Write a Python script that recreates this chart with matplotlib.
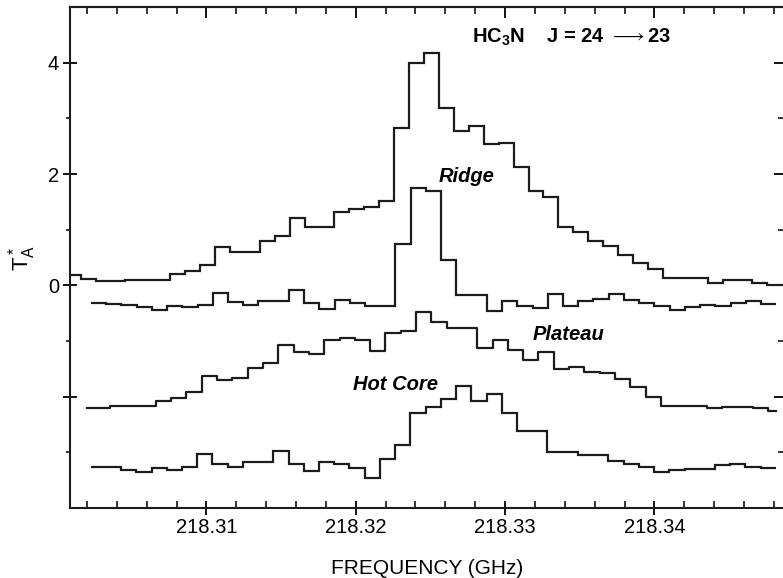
import numpy as np
import matplotlib.pyplot as plt
from matplotlib.ticker import FixedLocator, MultipleLocator, FormatStrFormatter

plt.rcParams['font.family'] = ['Liberation Sans', 'DejaVu Sans']
plt.rcParams['mathtext.fontset'] = 'custom'
plt.rcParams['mathtext.rm'] = 'Liberation Sans'
plt.rcParams['mathtext.it'] = 'Liberation Sans:italic'
plt.rcParams['mathtext.bf'] = 'Liberation Sans:bold'
plt.rcParams['mathtext.fallback'] = 'stix'

# top spectrum: first channel edge (GHz) and channel width (GHz)
top_start, top_width = 218.30057, 0.001
top_ta = [0.18, 0.11, 0.07, 0.07, 0.09, 0.09, 0.09, 0.21, 0.25, 0.36,
          0.68, 0.59, 0.59, 0.80, 0.89, 1.21, 1.05, 1.05, 1.32, 1.38,
          1.41, 1.52, 2.82, 4.00, 4.18, 3.18, 2.77, 2.86, 2.54, 2.55,
          2.13, 1.70, 1.59, 1.05, 0.96, 0.79, 0.71, 0.54, 0.41, 0.29,
          0.14, 0.14, 0.14, 0.05, 0.09, 0.09, 0.04, 0.00, 0.00]

# ridge spectrum
ridge_start, ridge_width = 218.30226, 0.00102
ridge_ta = [-0.32, -0.34, -0.35, -0.39, -0.44, -0.38, -0.39, -0.35, -0.13, -0.30,
            -0.36, -0.29, -0.29, -0.08, -0.31, -0.42, -0.27, -0.32, -0.37, -0.37,
            0.75, 1.74, 1.69, 0.45, -0.17, -0.17, -0.47, -0.29, -0.38, -0.40,
            -0.16, -0.37, -0.28, -0.25, -0.16, -0.27, -0.32, -0.37, -0.44, -0.39,
            -0.35, -0.38, -0.32, -0.29, -0.33]

# plateau spectrum: first channel centre and spacing
plat_start, plat_width = 218.302, 0.001025
plat_ta = [-2.21, -2.21, -2.17, -2.17, -2.17, -2.07, -2.02, -1.91, -1.62, -1.70,
           -1.67, -1.48, -1.39, -1.08, -1.20, -1.24, -0.99, -0.95, -0.99, -1.18,
           -0.86, -0.82, -0.48, -0.66, -0.76, -0.77, -1.13, -0.98, -1.17, -1.34,
           -1.20, -1.50, -1.47, -1.56, -1.57, -1.68, -1.83, -2.01, -2.16, -2.16,
           -2.16, -2.21, -2.18, -2.18, -2.21, -2.26]

# hot core spectrum
hc_start, hc_width = 218.30224, 0.00102
hc_ta = [-3.27, -3.27, -3.31, -3.35, -3.29, -3.31, -3.26, -3.03, -3.21, -3.27,
         -3.18, -3.18, -2.97, -3.21, -3.34, -3.17, -3.21, -3.28, -3.47, -3.12,
         -2.87, -2.30, -2.18, -2.04, -1.80, -2.07, -1.96, -2.30, -2.61, -2.61,
         -3.00, -3.00, -3.04, -3.05, -3.15, -3.21, -3.26, -3.36, -3.32, -3.30,
         -3.30, -3.23, -3.21, -3.26, -3.29]

x_major = [218.31, 218.32, 218.33, 218.34]
y_major = [-2, 0, 2, 4]
y_labels = ['', '0', '2', '4']
y_minor = [-3, -1, 1, 3]

line_color = '#1c1c1c'


def edges(start, width, n):
    return start + width * np.arange(n + 1)


fig = plt.figure(figsize=(7.83, 5.78), dpi=100)
ax = fig.add_axes([70 / 783, 70 / 578, 715 / 783, 501 / 578])

ax.stairs(top_ta, edges(top_start, top_width, len(top_ta)),
          baseline=None, color=line_color, lw=1.6)
ax.stairs(ridge_ta, edges(ridge_start, ridge_width, len(ridge_ta)),
          baseline=None, color=line_color, lw=1.6)
plat_f = plat_start + plat_width * np.arange(len(plat_ta))
ax.step(plat_f, plat_ta, where='mid', color=line_color, lw=1.6)
ax.stairs(hc_ta, edges(hc_start, hc_width, len(hc_ta)),
          baseline=None, color=line_color, lw=1.6)

ax.set_xlim(218.30086, 218.34875)
ax.set_ylim(-4, 5)

ax.xaxis.set_major_locator(FixedLocator(x_major))
ax.xaxis.set_minor_locator(MultipleLocator(0.002))
ax.xaxis.set_major_formatter(FormatStrFormatter('%.2f'))
ax.set_yticks(y_major)
ax.set_yticklabels(y_labels)
ax.yaxis.set_minor_locator(FixedLocator(y_minor))

ax.tick_params(axis='x', which='major', direction='inout', length=10, width=1.3,
               labelsize=14.5, pad=2, top=False)
ax.tick_params(axis='x', which='minor', direction='in', length=5, width=1.1, top=False)
ax.tick_params(axis='y', which='major', direction='inout', length=10, width=1.3,
               labelsize=14.5, pad=3, right=False)
ax.tick_params(axis='y', which='minor', direction='out', length=3, width=1.1, right=False)

top = ax.secondary_xaxis('top')
top.set_xticks(x_major)
top.xaxis.set_minor_locator(MultipleLocator(0.002))
top.tick_params(which='major', direction='in', length=8, width=1.3, labeltop=False)
top.tick_params(which='minor', direction='in', length=5, width=1.1)

right = ax.secondary_yaxis('right')
right.set_yticks(y_major)
right.yaxis.set_minor_locator(FixedLocator(y_minor))
right.tick_params(which='major', direction='in', length=8, width=1.3, labelright=False)
right.tick_params(which='minor', direction='in', length=5, width=1.1)

for sp in list(ax.spines.values()) + list(top.spines.values()) + list(right.spines.values()):
    sp.set_linewidth(1.5)
    sp.set_color(line_color)

ax.set_xlabel('FREQUENCY (GHz)', fontsize=15, labelpad=16)
ax.set_ylabel(r'$\mathrm{T_A^*}$', fontsize=16, labelpad=7)

ax.text(218.32779, 4.45, r'HC$_\mathbf{3}$N    J = 24 $\longrightarrow\!\!$ 23',
        fontsize=14.5, fontweight='bold', ha='left', va='center')
ax.text(218.32745, 1.95, 'Ridge', fontsize=14.5, fontweight='bold',
        style='italic', ha='center', va='center')
ax.text(218.33422, -0.875, 'Plateau', fontsize=14.5, fontweight='bold',
        style='italic', ha='center', va='center')
ax.text(218.32263, -1.79, 'Hot Core', fontsize=14.5, fontweight='bold',
        style='italic', ha='center', va='center')

fig.savefig('out.png', dpi=100)
